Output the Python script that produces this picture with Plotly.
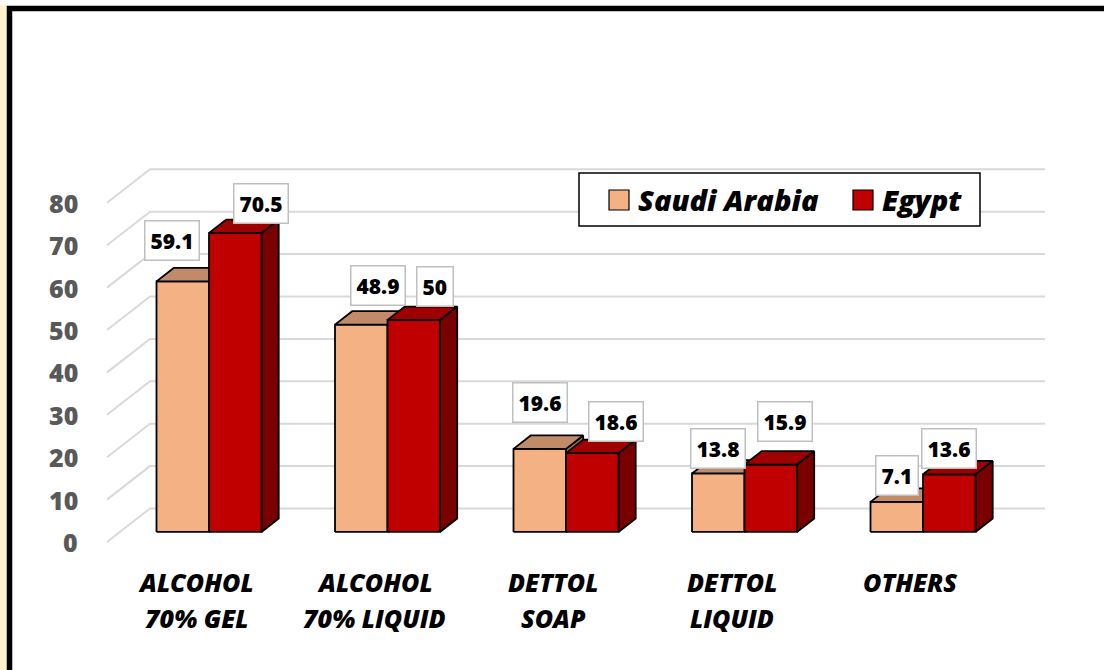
import plotly.graph_objects as go

# ---------------- data ----------------
categories = ["ALCOHOL<br>70% GEL", "ALCOHOL<br>70% LIQUID", "DETTOL<br>SOAP", "DETTOL<br>LIQUID", "OTHERS"]
saudi = [59.1, 48.9, 19.6, 13.8, 7.1]
egypt = [70.5, 50, 18.6, 15.9, 13.6]
series_names = ["Saudi Arabia", "Egypt"]
y_ticks = [0, 10, 20, 30, 40, 50, 60, 70, 80]

# per-label nudges in pixels (dx, dy) relative to bar front-top centre
saudi_label_nudge = [(-11, 41), (17, 39), (0, 46), (0, 25), (0, 26)]
egypt_label_nudge = [(26, 30), (21, 33), (24, 32), (14, 43), (0, 26)]

# ---------------- geometry / styles ----------------
W, H = 1104, 670
PX_CAT = 178.5      # px per category
PX_VAL = 4.24       # px per value unit
X0_PX = 196.1       # px of category 0 centre on front plane
Y0_PX = 542.0       # px of value 0 on front plane
xr = [(0 - X0_PX) / PX_CAT, (W - X0_PX) / PX_CAT]
yr = [(Y0_PX - H) / PX_VAL, Y0_PX / PX_VAL]

DX = 43 / PX_CAT    # full chart depth vector (data units)
DY = 33.5 / PX_VAL
F_FRONT = 0.3       # bar front depth fraction
F_DEPTH = 0.4       # bar depth fraction
BW = 52.5 / PX_CAT  # bar width
X_LEFT = (107 - X0_PX) / PX_CAT
X_RIGHT = (1045 - X0_PX) / PX_CAT

col_front = ["#F4B183", "#C00000"]
col_top = ["#C08B66", "#9E0000"]
col_side = ["#A9714C", "#7A0000"]

FONT = "Open Sans"
HEAVY = 800

fig = go.Figure()

# gridlines (front diagonal + back wall)
gx, gy = [], []
for v in y_ticks:
    gx += [X_LEFT, X_LEFT + DX, X_RIGHT, None]
    gy += [v, v + DY, v + DY, None]
fig.add_trace(go.Scatter(x=gx, y=gy, mode="lines", line=dict(color="#D9D9D9", width=2),
                         hoverinfo="skip", showlegend=False))

sx, sy = F_DEPTH * DX, F_DEPTH * DY
fx, fy = F_FRONT * DX, F_FRONT * DY

for s, vals in enumerate([saudi, egypt]):
    side_x, side_y, front_x, front_y, top_x, top_y = [], [], [], [], [], []
    for i, v in enumerate(vals):
        c = i + fx
        x0 = c - BW if s == 0 else c
        x1 = x0 + BW
        side_x += [x1, x1 + sx, x1 + sx, x1, x1, None]
        side_y += [fy, fy + sy, v + fy + sy, v + fy, fy, None]
        front_x += [x0, x1, x1, x0, x0, None]
        front_y += [fy, fy, v + fy, v + fy, fy, None]
        top_x += [x0, x1, x1 + sx, x0 + sx, x0, None]
        top_y += [v + fy, v + fy, v + fy + sy, v + fy + sy, v + fy, None]
    for xs, ys, col in [(side_x, side_y, col_side[s]), (front_x, front_y, col_front[s]),
                        (top_x, top_y, col_top[s])]:
        fig.add_trace(go.Scatter(x=xs, y=ys, mode="lines", fill="toself", fillcolor=col,
                                 line=dict(color="black", width=1.8), hoverinfo="skip",
                                 showlegend=False, name=series_names[s]))

annotations = []
# data labels
for s, (vals, nudges) in enumerate([(saudi, saudi_label_nudge), (egypt, egypt_label_nudge)]):
    for i, v in enumerate(vals):
        c = i + fx
        xc = c - BW / 2 if s == 0 else c + BW / 2
        annotations.append(dict(
            x=xc, y=v + fy, xref="x", yref="y", text=f"{v:g}", showarrow=False,
            xanchor="center", yanchor="middle", xshift=nudges[i][0], yshift=nudges[i][1],
            font=dict(family=FONT, size=21, color="black", weight=HEAVY),
            bgcolor="white", bordercolor="#BFBFBF", borderwidth=1.5, borderpad=5))

# y tick labels (front plane)
for v in y_ticks:
    annotations.append(dict(
        x=(80 - X0_PX) / PX_CAT, y=v, xref="x", yref="y", text=str(v), showarrow=False,
        xanchor="right", yanchor="middle",
        font=dict(family=FONT, size=25, color="#595959", weight=HEAVY)))

# category labels
for i, cat in enumerate(categories):
    for k, line in enumerate(cat.split("<br>")):
        annotations.append(dict(
            x=i, y=(Y0_PX - 582) / PX_VAL, xref="x", yref="y", text=line, showarrow=False,
            xanchor="center", yanchor="middle", yshift=-36 * k,
            font=dict(family=FONT, size=25, color="black", weight=HEAVY, style="italic")))

# legend (custom)
def px(xp):
    return xp / W

def py(yp):
    return 1 - yp / H

shapes = []
shapes.append(dict(type="rect", xref="paper", yref="paper", x0=px(579), x1=px(980), y0=py(226), y1=py(173),
                   line=dict(color="black", width=1.5), fillcolor="white", layer="above"))
leg_items = [(609, 636), (853, 880)]
for s, (sqx, tx) in enumerate(leg_items):
    shapes.append(dict(type="rect", xref="paper", yref="paper", x0=px(sqx), x1=px(sqx + 20),
                       y0=py(210), y1=py(190), line=dict(color="black", width=1.2),
                       fillcolor=col_front[s], layer="above"))
    annotations.append(dict(x=px(tx), y=py(200), xref="paper", yref="paper", text=series_names[s],
                            showarrow=False, xanchor="left", yanchor="middle",
                            font=dict(family=FONT, size=29, color="black", weight=HEAVY, style="italic")))

# outer frame
shapes.append(dict(type="rect", xref="paper", yref="paper", x0=px(0), x1=px(7), y0=py(700), y1=py(5),
                   line=dict(width=0), fillcolor="#FFF2CC", layer="above"))
shapes.append(dict(type="rect", xref="paper", yref="paper", x0=px(9.5), x1=px(1120), y0=py(700), y1=py(8.5),
                   line=dict(color="black", width=5.5), fillcolor="rgba(0,0,0,0)", layer="above"))

fig.update_layout(
    width=W, height=H, margin=dict(l=0, r=0, t=0, b=0),
    paper_bgcolor="white", plot_bgcolor="white", showlegend=False,
    xaxis=dict(range=xr, visible=False, fixedrange=True),
    yaxis=dict(range=yr, visible=False, fixedrange=True),
    annotations=annotations, shapes=shapes,
)

fig.write_html("out.html", config={"displayModeBar": False},
               post_script="document.body.style.margin='0';document.body.style.overflow='hidden';")
